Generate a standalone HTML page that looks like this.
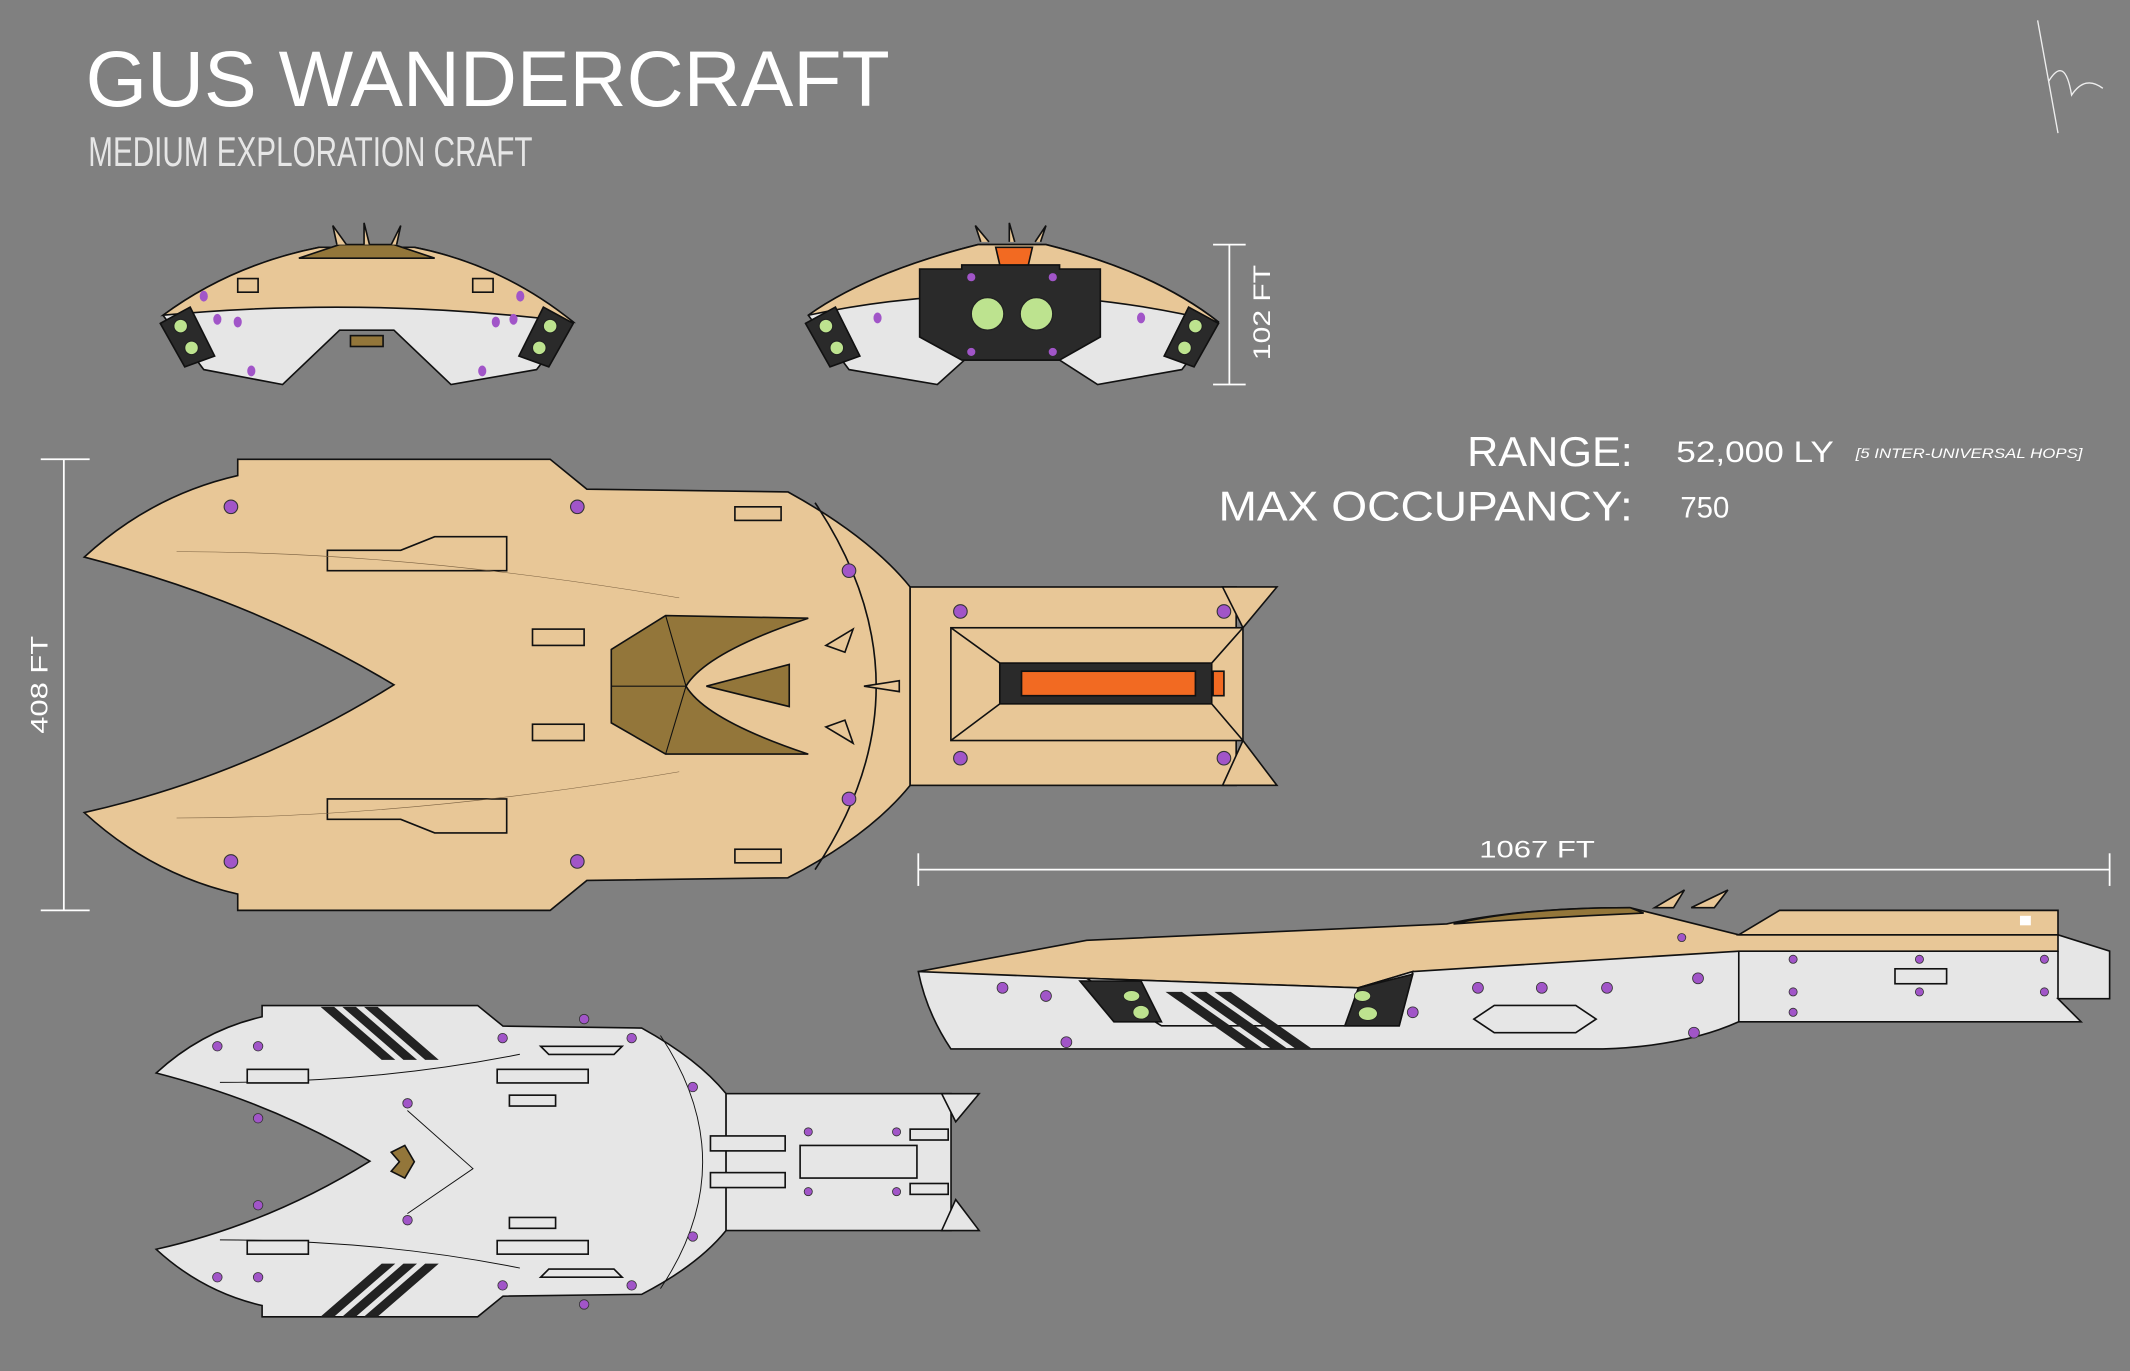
<!DOCTYPE html>
<html><head><meta charset="utf-8"><style>
html,body{margin:0;padding:0;background:#808080;}
svg{display:block;}
text{font-family:"Liberation Sans",sans-serif;fill:#fff;}
.n{font-family:"Liberation Sans Narrow","Liberation Sans",sans-serif;}
</style></head><body>
<svg width="2130" height="1371" viewBox="0 0 1568 1009" preserveAspectRatio="none" xmlns="http://www.w3.org/2000/svg">
<rect width="1568" height="1009" fill="#808080"/>
<text x="63" y="78" font-size="58" textLength="592" lengthAdjust="spacingAndGlyphs">GUS WANDERCRAFT</text>
<text x="65" y="122" font-size="31" textLength="327" lengthAdjust="spacingAndGlyphs" class="n" style="fill:#e6e6e6">MEDIUM EXPLORATION CRAFT</text>
<path d="M1500 15 L1515 98 M1508 60 Q1520 40 1525 70 Q1535 55 1548 65" stroke="#eee" stroke-width="1" fill="none"/>
<text x="1202" y="343" font-size="31" text-anchor="end" textLength="122" lengthAdjust="spacingAndGlyphs">RANGE:</text>
<text x="1202" y="383" font-size="31" text-anchor="end" textLength="305" lengthAdjust="spacingAndGlyphs">MAX OCCUPANCY:</text>
<text x="1234" y="340" font-size="22" textLength="116" lengthAdjust="spacingAndGlyphs" class="n">52,000 LY</text>
<text x="1366" y="337" font-size="10" font-style="italic" textLength="167" lengthAdjust="spacingAndGlyphs" class="n">[5 INTER-UNIVERSAL HOPS]</text>
<text x="1237" y="381" font-size="22" textLength="36" lengthAdjust="spacingAndGlyphs" class="n">750</text>
<g stroke="#fff" stroke-width="1.3">
<line x1="905" y1="180" x2="905" y2="283"/><line x1="893" y1="180" x2="917" y2="180"/><line x1="893" y1="283" x2="917" y2="283"/>
<line x1="47" y1="338" x2="47" y2="670"/><line x1="30" y1="338" x2="66" y2="338"/><line x1="30" y1="670" x2="66" y2="670"/>
<line x1="676" y1="640" x2="1553" y2="640"/><line x1="676" y1="628" x2="676" y2="652"/><line x1="1553" y1="628" x2="1553" y2="652"/>
</g>
<text class="n" font-size="18" transform="translate(935,265) rotate(-90)" textLength="70" lengthAdjust="spacingAndGlyphs">102 FT</text>
<text class="n" font-size="18" transform="translate(35,540) rotate(-90)" textLength="72" lengthAdjust="spacingAndGlyphs">408 FT</text>
<text class="n" font-size="18" x="1089" y="631" textLength="85" lengthAdjust="spacingAndGlyphs">1067 FT</text>

<g stroke="#111" stroke-width="1.2">
<path d="M62,410 C100,375 140,358 175,350 L175,338 L405,338 L432,360 L580,362 Q640,395 670,432 L670,578 Q640,615 580,646 L432,648 L405,670 L175,670 L175,658 C140,650 100,633 62,598 C120,585 200,560 290,504 C200,450 120,425 62,410 Z" fill="#e8c797"/>
<path d="M600,370 Q690,505 600,640" fill="none"/>
<rect x="670" y="432" width="240" height="146" fill="#e8c797"/>
<path d="M900,432 L940,432 L915,462 Z M900,578 L940,578 L915,545 Z" fill="#e8c797"/>
<rect x="700" y="462" width="215" height="83" fill="#e8c797"/>
<path d="M700,462 L736,488 M700,545 L736,518 M915,462 L892,488 M915,545 L892,518" fill="none"/>
<rect x="736" y="488" width="156" height="30" fill="#2a2a2a"/>
<rect x="752" y="494" width="128" height="18" fill="#f26a22"/>
<rect x="893" y="494" width="8" height="18" fill="#f26a22"/>
<path d="M450,478 L490,453 L595,455 Q520,480 505,505 Q520,530 595,555 L490,555 L450,532 Z" fill="#93763a"/>
<path d="M490,453 L505,505 L490,555 M450,505 L505,505" fill="none" stroke-width="0.8"/>
<path d="M520,505 L581,489 L581,520 Z" fill="#93763a"/>
<path d="M608,475 L628,463 L622,480 Z M608,535 L628,547 L622,530 Z M636,505 L662,501 L662,509 Z" fill="#e8c797"/>
<path d="M241,405 L295,405 L320,395 L373,395 L373,420 L241,420 Z M241,603 L295,603 L320,613 L373,613 L373,588 L241,588 Z" fill="#e8c797"/>
<rect x="541" y="373" width="34" height="10" fill="#e8c797"/><rect x="541" y="625" width="34" height="10" fill="#e8c797"/>
<rect x="392" y="463" width="38" height="12" fill="#e8c797"/><rect x="392" y="533" width="38" height="12" fill="#e8c797"/>
<path d="M130,406 Q300,406 500,440 M130,602 Q300,602 500,568" fill="none" stroke-width="0.4" stroke="#7a6040"/>
<g fill="#a155c8" stroke="#333" stroke-width="0.8">
<circle cx="170" cy="373" r="5"/><circle cx="425" cy="373" r="5"/><circle cx="625" cy="420" r="5"/><circle cx="625" cy="588" r="5"/>
<circle cx="170" cy="634" r="5"/><circle cx="425" cy="634" r="5"/><circle cx="707" cy="450" r="5"/><circle cx="901" cy="450" r="5"/><circle cx="707" cy="558" r="5"/><circle cx="901" cy="558" r="5"/>
</g>
</g>

<g stroke="#111" stroke-width="1.2">
<g transform="translate(72.2,506.8) scale(0.69)" stroke-width="1.7">
<path d="M62,410 C100,375 140,358 175,350 L175,338 L405,338 L432,360 L580,362 Q640,395 670,432 L670,578 Q640,615 580,646 L432,648 L405,670 L175,670 L175,658 C140,650 100,633 62,598 C120,585 200,560 290,504 C200,450 120,425 62,410 Z" fill="#e6e6e6"/>
<rect x="670" y="432" width="240" height="146" fill="#e6e6e6"/>
<path d="M900,432 L940,432 L915,462 Z M900,578 L940,578 L915,545 Z" fill="#e6e6e6"/>
<path d="M600,370 Q690,505 600,640 M130,420 Q300,420 450,390 M130,588 Q300,588 450,618 M330,450 L400,512 L330,560" fill="none" stroke-width="1"/>
</g>
<g fill="#222" stroke="none">
<path d="M236,741 L246,741 L291,780 L281,780 Z M252,741 L262,741 L307,780 L297,780 Z M268,741 L278,741 L323,780 L313,780 Z"/>
<path d="M236,969 L246,969 L291,930 L281,930 Z M252,969 L262,969 L307,930 L297,930 Z M268,969 L278,969 L323,930 L313,930 Z"/>
</g>
<path d="M288,848 L298,843 L305,855 L298,867 L288,862 L294,855 Z" fill="#93763a"/>
<g fill="#e6e6e6">
<rect x="182" y="787" width="45" height="10"/><rect x="182" y="913" width="45" height="10"/>
<rect x="366" y="787" width="67" height="10"/><rect x="366" y="913" width="67" height="10"/>
<rect x="375" y="806" width="34" height="8"/><rect x="375" y="896" width="34" height="8"/>
<rect x="523" y="836" width="55" height="11"/><rect x="523" y="863" width="55" height="11"/>
<rect x="589" y="843" width="86" height="24"/>
<rect x="670" y="831" width="28" height="8"/><rect x="670" y="871" width="28" height="8"/>
<path d="M398,770 L458,770 L452,776 L404,776 Z M398,940 L458,940 L452,934 L404,934 Z"/>
</g>
<g fill="#a155c8" stroke="#333" stroke-width="0.6">
<circle cx="160" cy="770" r="3.5"/><circle cx="190" cy="770" r="3.5"/><circle cx="160" cy="940" r="3.5"/><circle cx="190" cy="940" r="3.5"/>
<circle cx="300" cy="812" r="3.5"/><circle cx="300" cy="898" r="3.5"/><circle cx="190" cy="823" r="3.5"/><circle cx="190" cy="887" r="3.5"/>
<circle cx="370" cy="764" r="3.5"/><circle cx="370" cy="946" r="3.5"/><circle cx="430" cy="750" r="3.5"/><circle cx="430" cy="960" r="3.5"/>
<circle cx="465" cy="764" r="3.5"/><circle cx="465" cy="946" r="3.5"/><circle cx="510" cy="800" r="3.5"/><circle cx="510" cy="910" r="3.5"/>
<circle cx="595" cy="833" r="3"/><circle cx="595" cy="877" r="3"/><circle cx="660" cy="833" r="3"/><circle cx="660" cy="877" r="3"/>
</g>
</g>

<g stroke="#111" stroke-width="1.2">
<path d="M120,232 Q170,195 235,182 L305,182 Q370,195 422,237 L395,272 L332,283 L290,243 L250,243 L208,283 L150,272 Z" fill="#e6e6e6"/>
<path d="M120,232 Q170,195 235,182 L305,182 Q370,195 422,237 Q270,218 120,232 Z" fill="#e8c797"/>
<path d="M220,190 L250,180 L290,180 L320,190 Z" fill="#93763a"/>
<path d="M248,180 L245,166 L255,180 M268,180 L268,164 L272,180 M288,180 L295,166 L292,180" fill="#e8c797"/>
<path d="M118,238 L140,226 L158,262 L136,270 Z M422,238 L400,226 L382,262 L404,270 Z" fill="#2a2a2a"/>
<g fill="#bde38f" stroke="#222" stroke-width="0.8"><circle cx="133" cy="240" r="5"/><circle cx="141" cy="256" r="5"/><circle cx="405" cy="240" r="5"/><circle cx="397" cy="256" r="5"/></g>
<rect x="258" y="247" width="24" height="8" fill="#93763a"/>
<path d="M175,215 L175,205 L190,205 L190,215 Z M348,215 L348,205 L363,205 L363,215 Z" fill="#e8c797"/>
<g fill="#a155c8" stroke="none"><ellipse cx="150" cy="218" rx="3" ry="4"/><ellipse cx="160" cy="235" rx="3" ry="4"/><ellipse cx="175" cy="237" rx="3" ry="4"/><ellipse cx="185" cy="273" rx="3" ry="4"/><ellipse cx="383" cy="218" rx="3" ry="4"/><ellipse cx="378" cy="235" rx="3" ry="4"/><ellipse cx="365" cy="237" rx="3" ry="4"/><ellipse cx="355" cy="273" rx="3" ry="4"/></g>
</g>

<g stroke="#111" stroke-width="1.2">
<path d="M595,232 Q640,200 720,180 L770,180 Q850,200 897,237 L870,272 L808,283 L780,265 L710,265 L690,283 L625,272 Z" fill="#e6e6e6"/>
<path d="M595,232 Q640,200 720,180 L770,180 Q850,200 897,237 Q745,200 595,232 Z" fill="#e8c797"/>
<path d="M677,198 L708,198 L708,195 L780,195 L780,198 L810,198 L810,248 L780,265 L708,265 L677,248 Z" fill="#2a2a2a"/>
<path d="M733,182 L760,182 L757,195 L736,195 Z" fill="#f26a22"/>
<path d="M722,178 L718,166 L728,178 M743,178 L743,164 L747,178 M762,178 L770,166 L766,178" fill="#e8c797"/>
<g fill="#bde38f" stroke="#222" stroke-width="1"><circle cx="727" cy="231" r="12"/><circle cx="763" cy="231" r="12"/></g>
<g fill="#a155c8" stroke="none"><circle cx="715" cy="204" r="3"/><circle cx="775" cy="204" r="3"/><circle cx="715" cy="259" r="3"/><circle cx="775" cy="259" r="3"/><ellipse cx="646" cy="234" rx="3" ry="4"/><ellipse cx="840" cy="234" rx="3" ry="4"/></g>
<path d="M593,238 L615,226 L633,262 L611,270 Z M897,238 L875,226 L857,262 L879,270 Z" fill="#2a2a2a"/>
<g fill="#bde38f" stroke="#222" stroke-width="0.8"><circle cx="608" cy="240" r="5"/><circle cx="616" cy="256" r="5"/><circle cx="880" cy="240" r="5"/><circle cx="872" cy="256" r="5"/></g>
</g>

<g stroke="#111" stroke-width="1.2">
<path d="M676,715 L1280,700 L1515,688 L1553,700 L1553,735 L1515,735 L1532,752 L1280,752 Q1240,770 1180,772 L700,772 Q682,745 676,715 Z" fill="#e6e6e6"/>
<path d="M676,715 L800,692 L1065,680 Q1120,668 1200,668 L1280,688 L1515,688 L1515,700 L1280,700 L1040,715 L1000,727 L800,720 Z" fill="#e8c797"/>
<path d="M1310,670 L1515,670 L1515,688 L1280,688 Z" fill="#e8c797"/>
<path d="M1070,680 Q1120,668 1200,668 L1210,672 Q1140,675 1070,680 Z" fill="#93763a"/>
<path d="M1218,668 L1240,655 L1232,668 Z M1245,668 L1272,655 L1262,668 Z" fill="#e8c797"/>
<path d="M1280,700 L1280,752 M1515,700 L1515,735" fill="none"/>
<path d="M800,720 L1000,727 L1040,715 L1030,755 L855,755 Z" fill="#e6e6e6"/>
<g fill="#222" stroke="none">
<path d="M858,730 L870,730 L930,772 L918,772 Z M876,730 L888,730 L948,772 L936,772 Z M894,730 L906,730 L966,772 L954,772 Z"/>
</g>
<path d="M795,722 L840,722 L855,752 L820,752 Z M1000,727 L1040,717 L1030,755 L990,755 Z" fill="#2a2a2a"/>
<g fill="#bde38f" stroke="#222" stroke-width="0.6"><ellipse cx="833" cy="733" rx="6" ry="4"/><ellipse cx="840" cy="745" rx="6" ry="5"/><ellipse cx="1003" cy="733" rx="6" ry="4"/><ellipse cx="1007" cy="746" rx="7" ry="5"/></g>
<path d="M1085,750 L1100,740 L1160,740 L1175,750 L1160,760 L1100,760 Z" fill="#e6e6e6"/>
<rect x="1395" y="713" width="38" height="11" fill="#e6e6e6"/>
<g fill="#a155c8" stroke="#333" stroke-width="0.6">
<ellipse cx="738" cy="727" rx="4" ry="4"/><ellipse cx="785" cy="767" rx="4" ry="4"/><ellipse cx="770" cy="733" rx="4" ry="4"/>
<ellipse cx="1088" cy="727" rx="4" ry="4"/><ellipse cx="1135" cy="727" rx="4" ry="4"/><ellipse cx="1183" cy="727" rx="4" ry="4"/><ellipse cx="1250" cy="720" rx="4" ry="4"/><ellipse cx="1247" cy="760" rx="4" ry="4"/>
<ellipse cx="1040" cy="745" rx="4" ry="4"/><ellipse cx="1238" cy="690" rx="3" ry="3"/>
<circle cx="1320" cy="706" r="3"/><circle cx="1320" cy="730" r="3"/><circle cx="1320" cy="745" r="3"/><circle cx="1413" cy="706" r="3"/><circle cx="1413" cy="730" r="3"/><circle cx="1505" cy="706" r="3"/><circle cx="1505" cy="730" r="3"/>
</g>
<rect x="1487" y="674" width="8" height="7" fill="#fff" stroke="none"/>
</g>
</svg>
</body></html>
